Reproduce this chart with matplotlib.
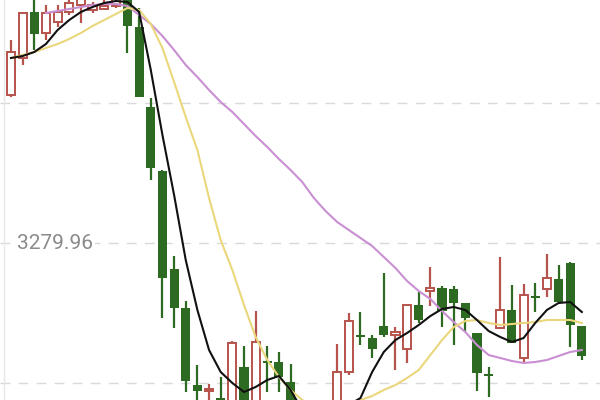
import numpy as np
import matplotlib
matplotlib.use("Agg")
import matplotlib.pyplot as plt
from matplotlib.transforms import blended_transform_factory

# daily candles (open, high, low, close)
opens = [3428, 3465, 3511, 3490, 3501, 3511, 3518, 3513, 3514, 3517,
         3523, 3496, 3416, 3352, 3254, 3215, 3138, 3132, 3125, 3108,
         3156, 3118, 3162, 3161, 3141, 3103, 3083, 3093, 3113, 3151,
         3188, 3185, 3197, 3188, 3174, 3218, 3232, 3235, 3234, 3220,
         3190, 3149, 3195, 3213, 3165, 3227, 3234, 3244, 3260, 3197]
highs = [3483, 3511, 3528, 3518, 3518, 3526, 3528, 3521, 3523, 3528,
         3528, 3515, 3425, 3353, 3267, 3222, 3158, 3139, 3146, 3182,
         3177, 3212, 3177, 3171, 3159, 3113, 3108, 3121, 3179, 3210,
         3211, 3188, 3250, 3196, 3218, 3231, 3256, 3237, 3237, 3220,
         3190, 3156, 3266, 3238, 3239, 3240, 3269, 3258, 3261, 3197]
lows = [3426, 3458, 3473, 3483, 3496, 3508, 3500, 3510, 3513, 3515,
        3470, 3426, 3343, 3205, 3195, 3131, 3118, 3118, 3108, 3103,
        3105, 3113, 3131, 3131, 3098, 3073, 3073, 3088, 3108, 3148,
        3178, 3165, 3186, 3153, 3160, 3200, 3217, 3196, 3178, 3191,
        3132, 3126, 3195, 3180, 3161, 3211, 3226, 3221, 3176, 3163]
closes = [3471, 3510, 3489, 3510, 3511, 3520, 3525, 3518, 3517, 3525,
          3497, 3426, 3355, 3245, 3215, 3142, 3132, 3134, 3113, 3180,
          3113, 3181, 3160, 3146, 3103, 3083, 3098, 3113, 3151, 3202,
          3186, 3174, 3188, 3191, 3218, 3203, 3235, 3212, 3220, 3205,
          3150, 3147, 3213, 3180, 3228, 3225, 3245, 3221, 3198, 3167]

ma5 = [3465, 3467, 3471, 3479, 3493, 3503, 3511, 3516, 3520, 3522,
       3521, 3511, 3453, 3388, 3328, 3263, 3213, 3173, 3151, 3140,
       3131, 3136, 3143, 3147, 3133, 3113, 3103, 3103, 3111, 3118,
       3125, 3151, 3171, 3183, 3190, 3198, 3207, 3214, 3216, 3213,
       3203, 3192, 3186, 3181, 3185, 3200, 3213, 3220, 3221, 3211]
ma10 = [3465, 3468, 3471, 3475, 3479, 3484, 3490, 3497, 3503, 3509,
        3515, 3513, 3499, 3475, 3441, 3406, 3373, 3325, 3283, 3253,
        3218, 3186, 3163, 3146, 3133, 3123, 3118, 3116, 3118, 3121,
        3123, 3127, 3133, 3138, 3145, 3153, 3168, 3183, 3196, 3202,
        3203, 3200, 3198, 3199, 3200, 3201, 3203, 3203, 3203, 3200]
ma20 = [np.nan, np.nan, np.nan, 3510, 3512, 3514, 3516, 3518, 3519, 3519,
        3517, 3508, 3499, 3487, 3473, 3458, 3446, 3433, 3421, 3411,
        3399, 3387, 3376, 3364, 3353, 3341, 3325, 3312, 3301, 3293,
        3285, 3277, 3266, 3255, 3242, 3232, 3224, 3212, 3201, 3191,
        3178, 3168, 3165, 3162, 3160, 3161, 3163, 3167, 3171, 3173]

grid_levels = [3419.96, 3279.96, 3139.96]
label_level = 3279.96

red = '#b5534c'
green = '#2e6b22'

fig = plt.figure(figsize=(6, 4), dpi=100, facecolor='white')
ax = fig.add_axes([0, 0, 1, 1])
ax.set_xlim(-0.944, 50.56)
ax.set_ylim(3123, 3523)
ax.axis('off')

for lv in grid_levels:
    ax.axhline(lv, color='#d9d9d9', lw=1.0, ls=(0, (7, 6)), zorder=1)
ax.axvline(-0.6, color='#e8e8e8', lw=1.0, zorder=1)

x = np.arange(len(opens))
o = np.array(opens, dtype=float)
c = np.array(closes, dtype=float)
up = c >= o
colors = [red if u else green for u in up]
ax.vlines(x, lows, highs, colors=colors, lw=1.6, zorder=2)

bottom = np.minimum(o, c)
height = np.maximum(np.abs(c - o), 1.5)
ax.bar(x[up], height[up], bottom=bottom[up], width=0.7,
       facecolor='white', edgecolor=red, linewidth=1.4, zorder=3)
ax.bar(x[~up], height[~up], bottom=bottom[~up], width=0.78,
       color=green, linewidth=0, zorder=3)

ax.plot(x, ma20, color='#c98fd2', lw=1.5, zorder=4)
ax.plot(x, ma10, color='#ead77c', lw=1.5, zorder=4)
ax.plot(x, ma5, color='#111111', lw=1.5, zorder=5)

tr = blended_transform_factory(ax.transAxes, ax.transData)
ax.text(17 / 600, label_level, '3279.96', transform=tr, ha='left', va='center',
        fontsize=15, family='Roboto', color='#8a8a8a', zorder=6,
        bbox=dict(facecolor='white', edgecolor='none', pad=1.5))

fig.savefig('out.png', dpi=100, facecolor='white')
